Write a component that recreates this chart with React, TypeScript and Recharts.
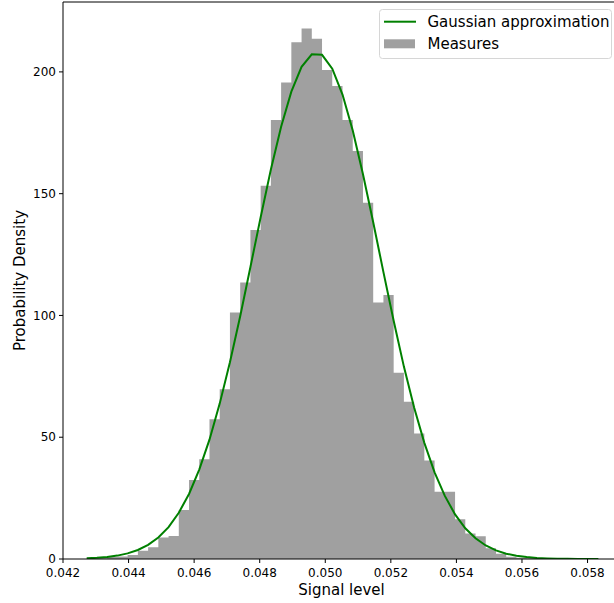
import React from "react";
import { Area, ComposedChart, Line, ReferenceLine, XAxis, YAxis } from "recharts";

// histogram bin edges (51 edges -> 50 bins)
const edges = [
  0.042723, 0.043035, 0.043347, 0.043659, 0.043971, 0.044284, 0.044596, 0.044908, 0.04522, 0.045532,
  0.045844, 0.046156, 0.046468, 0.04678, 0.047092, 0.047405, 0.047717, 0.048029, 0.048341, 0.048653,
  0.048965, 0.049277, 0.049589, 0.049901, 0.050213, 0.050526, 0.050838, 0.05115, 0.051462, 0.051774,
  0.052086, 0.052398, 0.05271, 0.053022, 0.053334, 0.053647, 0.053959, 0.054271, 0.054583, 0.054895,
  0.055207, 0.055519, 0.055831, 0.056143, 0.056455, 0.056768, 0.05708, 0.057392, 0.057704, 0.058016,
  0.058328,
];

// density of each bin
const measures = [
  0.3, 0.3, 0.8, 1.0, 1.6, 3.4, 4.8, 8.8, 9.4, 20.1,
  32.4, 41.0, 57.4, 69.7, 101.2, 113.5, 135.1, 153.3, 180.3, 195.6,
  212.2, 217.8, 213.6, 200.8, 194.2, 180.3, 167.5, 146.3, 105.3, 108.4,
  76.5, 64.6, 51.5, 40.4, 27.6, 27.6, 16.3, 10.5, 9.3, 4.4,
  2.2, 0.9, 0.5, 0.3, 0, 0, 0, 0, 0, 0.3,
];

// gaussian curve read at each edge
const gaussian = [
  0.26, 0.47, 0.82, 1.39, 2.3, 3.7, 5.8, 8.84, 13.1, 19.0,
  26.7, 36.7, 49.0, 63.8, 80.8, 99.7, 119.9, 140.3, 159.9, 177.5,
  191.9, 202.1, 207.2, 207.0, 201.3, 190.7, 175.9, 158.0, 138.3, 117.8,
  97.8, 79.0, 62.2, 47.7, 35.6, 25.9, 18.3, 12.6, 8.5, 5.55,
  3.53, 2.19, 1.32, 0.78, 0.45, 0.25, 0.14, 0.07, 0.04, 0.02,
  0.01,
];

const xTicks = [0.042, 0.044, 0.046, 0.048, 0.05, 0.052, 0.054, 0.056, 0.058];
const yTicks = [0, 50, 100, 150, 200];
const xDomain = [0.042, 0.05899];
const yDomain = [0, 228.7];

const lineName = "Gaussian approximation";
const barName = "Measures";

const data = edges.map((x, i) => ({
  x,
  measures: i < measures.length ? measures[i] : measures[measures.length - 1],
  gaussian: gaussian[i],
}));

const font = "'DejaVu Sans', sans-serif";
const tickStyle = { fontSize: 12, fill: "#000", fontFamily: font };

function YTitle(props: any) {
  const vb = props.viewBox || { x: 0, y: 0, width: 63, height: 557 };
  const cx = vb.x + 25;
  const cy = vb.y + vb.height / 2;
  return (
    <text x={cx} y={cy} transform={`rotate(-90 ${cx} ${cy})`} textAnchor="middle" fontSize={15} fontFamily={font} fill="#000">
      Probability Density
    </text>
  );
}

function LegendBox() {
  return (
    <svg width={235} height={52} style={{ position: "absolute", left: 379, top: 9 }}>
      <rect x={0.5} y={0.5} width={232} height={49} rx={3} fill="rgba(255,255,255,0.8)" stroke="#d6d6d6" />
      <line x1={5} x2={37} y1={12.7} y2={12.7} stroke="#008000" strokeWidth={2} />
      <text x={48.5} y={18} fontSize={15} fontFamily={font} fill="#000">{lineName}</text>
      <rect x={5} y={30.3} width={31} height={9} fill="#a0a0a0" />
      <text x={48.5} y={40} fontSize={15} fontFamily={font} fill="#000">{barName}</text>
    </svg>
  );
}

export default function App() {
  return (
    <div style={{ position: "relative", width: 614, height: 603, overflow: "hidden", background: "#fff" }}>
      <style>{`body{margin:0}`}</style>
      {/* plot frame runs past the right edge of the picture, as in the reference */}
      <ComposedChart width={621} height={603} data={data} margin={{ top: 2, right: 1, bottom: 0, left: 0 }}>
        <XAxis
          dataKey="x"
          type="number"
          domain={xDomain}
          allowDataOverflow
          ticks={xTicks}
          tickFormatter={(v: number) => v.toFixed(3)}
          tick={tickStyle}
          tickSize={4}
          tickMargin={5}
          height={44}
          stroke="#000"
          label={{ value: "Signal level", position: "insideBottom", offset: 8, fontSize: 15, fontFamily: font, fill: "#000" }}
        />
        <YAxis
          type="number"
          domain={yDomain}
          allowDataOverflow
          ticks={yTicks}
          tick={tickStyle}
          tickSize={4}
          tickMargin={3}
          width={63}
          stroke="#000"
          label={<YTitle />}
        />
        <Area
          type="stepAfter"
          dataKey="measures"
          name={barName}
          fill="#a0a0a0"
          fillOpacity={1}
          stroke="none"
          isAnimationActive={false}
        />
        <Line
          type="linear"
          dataKey="gaussian"
          name={lineName}
          stroke="#008000"
          strokeWidth={2}
          dot={false}
          isAnimationActive={false}
        />
        {/* top frame line */}
        <ReferenceLine y={yDomain[1]} stroke="#000" ifOverflow="extendDomain" />
      </ComposedChart>
      <LegendBox />
    </div>
  );
}
